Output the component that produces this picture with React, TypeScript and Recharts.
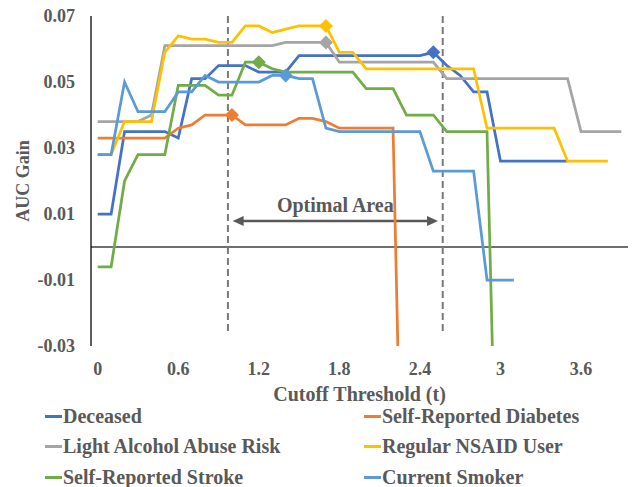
import React from "react"
import { Line, LineChart, ReferenceLine, XAxis, YAxis } from "recharts"

// cutoff thresholds, one category every 0.1
const thresholds = [
  0, 0.1, 0.2, 0.3, 0.4, 0.5, 0.6, 0.7, 0.8, 0.9, 1.0, 1.1, 1.2, 1.3, 1.4, 1.5, 1.6, 1.7, 1.8, 1.9,
  2.0, 2.1, 2.2, 2.3, 2.4, 2.5, 2.6, 2.7, 2.8, 2.9, 3.0, 3.1, 3.2, 3.3, 3.4, 3.5, 3.6, 3.7, 3.8, 3.9,
]

const deceased = [
  0.01, 0.01, 0.035, 0.035, 0.035, 0.035, 0.033, 0.051, 0.051, 0.055, 0.055, 0.055, 0.053, 0.053, 0.053,
  0.058, 0.058, 0.058, 0.058, 0.058, 0.058, 0.058, 0.058, 0.058, 0.058, 0.059, 0.055, 0.052, 0.047, 0.047,
  0.026, 0.026, 0.026, 0.026, 0.026, 0.026,
]
const diabetes = [
  0.033, 0.033, 0.033, 0.033, 0.033, 0.033, 0.036, 0.037, 0.04, 0.04, 0.04, 0.037, 0.037, 0.037, 0.037,
  0.039, 0.039, 0.038, 0.036, 0.036, 0.036, 0.036, 0.036, -0.15,
]
const alcohol = [
  0.038, 0.038, 0.038, 0.038, 0.04, 0.061, 0.061, 0.061, 0.061, 0.061, 0.061, 0.061, 0.061, 0.061, 0.062,
  0.062, 0.062, 0.062, 0.056, 0.056, 0.056, 0.056, 0.056, 0.056, 0.056, 0.056, 0.051, 0.051, 0.051, 0.051,
  0.051, 0.051, 0.051, 0.051, 0.051, 0.051, 0.035, 0.035, 0.035, 0.035,
]
const nsaid = [
  0.028, 0.028, 0.038, 0.038, 0.038, 0.059, 0.064, 0.063, 0.063, 0.062, 0.062, 0.067, 0.067, 0.065, 0.066,
  0.067, 0.067, 0.067, 0.059, 0.059, 0.054, 0.054, 0.054, 0.054, 0.054, 0.054, 0.054, 0.054, 0.054, 0.036,
  0.036, 0.036, 0.036, 0.036, 0.036, 0.026, 0.026, 0.026, 0.026,
]
const stroke = [
  -0.006, -0.006, 0.02, 0.028, 0.028, 0.028, 0.049, 0.049, 0.049, 0.046, 0.046, 0.056, 0.056, 0.054, 0.053,
  0.053, 0.053, 0.053, 0.053, 0.053, 0.048, 0.048, 0.048, 0.04, 0.04, 0.04, 0.035, 0.035, 0.035, 0.035, -0.13,
]
const smoker = [
  0.028, 0.028, 0.05, 0.041, 0.041, 0.041, 0.047, 0.047, 0.052, 0.05, 0.05, 0.05, 0.05, 0.052, 0.052, 0.051,
  0.051, 0.036, 0.035, 0.035, 0.035, 0.035, 0.035, 0.035, 0.035, 0.023, 0.023, 0.023, 0.023, -0.01, -0.01, -0.01,
]

const seriesNames = [
  "Deceased",
  "Self-Reported Diabetes",
  "Light Alcohol Abuse Risk",
  "Regular NSAID User",
  "Self-Reported Stroke",
  "Current Smoker",
]
const seriesKeys = ["deceased", "diabetes", "alcohol", "nsaid", "stroke", "smoker"]
const seriesColors = ["#4472C4", "#ED7D31", "#A5A5A5", "#FFC000", "#70AD47", "#5B9BD5"]
// index of the highlighted (diamond) point in each series
const markerIndex = [25, 10, 17, 17, 12, 14]

const xTicks = [0, 0.6, 1.2, 1.8, 2.4, 3, 3.6]
const yTicks = [-0.03, -0.01, 0.01, 0.03, 0.05, 0.07]
const optimalRange = [0.97, 2.57]

const seriesValues = [deceased, diabetes, alcohol, nsaid, stroke, smoker]
const rows = thresholds.map((t, i) => {
  const row: Record<string, number | null> = { t }
  seriesKeys.forEach((k, s) => {
    const v = seriesValues[s][i]
    row[k] = v === undefined ? null : v
  })
  return row
})

const FONT = "'Times New Roman', 'Liberation Serif', serif"
const GREY = "#595959"
const tickStyle = { fill: GREY, fontSize: 18, fontWeight: 700, fontFamily: FONT }
const titleStyle = { ...tickStyle, fontSize: 20 }

function diamondDot(series: number) {
  return (props: any) => {
    const { cx, cy, index } = props
    if (index !== markerIndex[series] || cx == null || cy == null) return <g key={`d-${series}-${index}`} />
    const r = 7
    return (
      <path
        key={`d-${series}-${index}`}
        d={`M${cx},${cy - r} L${cx + r},${cy} L${cx},${cy + r} L${cx - r},${cy} Z`}
        fill={seriesColors[series]}
      />
    )
  }
}

function DoubleArrow(props: any) {
  const { x1, y1, x2, y2 } = props
  const head = 11
  const half = 5
  return (
    <g>
      <line x1={x1 + head - 2} y1={y1} x2={x2 - head + 2} y2={y2} stroke={GREY} strokeWidth={2.5} />
      <path d={`M${x1},${y1} L${x1 + head},${y1 - half} L${x1 + head},${y1 + half} Z`} fill={GREY} />
      <path d={`M${x2},${y2} L${x2 - head},${y2 - half} L${x2 - head},${y2 + half} Z`} fill={GREY} />
    </g>
  )
}

export default function App() {
  return (
    <div style={{ position: "absolute", left: 0, top: 0, width: 632, height: 487, background: "#fff" }}>
      <LineChart width={632} height={487} data={rows} margin={{ top: 16, right: 4, bottom: 81, left: 0 }}>
        <XAxis
          dataKey="t"
          type="number"
          domain={[-0.05, 3.95]}
          ticks={xTicks}
          axisLine={false}
          tickLine={false}
          tickSize={0}
          tickMargin={16}
          tick={tickStyle}
          height={60}
          interval={0}
          label={{
            value: "Cutoff Threshold (t)",
            position: "insideBottom",
            offset: 5,
            style: { ...titleStyle, textAnchor: "middle" },
          }}
        />
        <YAxis
          type="number"
          domain={[-0.03, 0.07]}
          ticks={yTicks}
          allowDataOverflow
          width={91}
          axisLine={{ stroke: "#000", strokeWidth: 1.25 }}
          tickLine={false}
          tickSize={0}
          tickMargin={16}
          tick={tickStyle}
          interval={0}
          tickFormatter={(v: number) => v.toFixed(2)}
          label={{
            content: () => (
              <text
                x={23}
                y={181}
                transform="rotate(-90 23 181)"
                textAnchor="middle"
                dominantBaseline="central"
                style={tickStyle}
              >
                AUC Gain
              </text>
            ),
          }}
        />
        <ReferenceLine y={0} stroke="#404040" strokeWidth={1.5} />
        {optimalRange.map((x) => (
          <ReferenceLine
            key={x}
            segment={[
              { x, y: 0.07 },
              { x, y: -0.0267 },
            ]}
            stroke="#7a7a7a"
            strokeWidth={2}
            strokeDasharray="7 4"
          />
        ))}
        <ReferenceLine
          segment={[
            { x: 1.005, y: 0.0079 },
            { x: 2.535, y: 0.0079 },
          ]}
          shape={DoubleArrow}
          label={{ value: "Optimal Area", position: "top", offset: 9, style: { ...titleStyle } }}
        />
        {seriesKeys.map((k, s) => (
          <Line
            key={k}
            dataKey={k}
            name={seriesNames[s]}
            stroke={seriesColors[s]}
            strokeWidth={2.75}
            dot={diamondDot(s)}
            activeDot={false}
            isAnimationActive={false}
          />
        ))}
      </LineChart>
      {seriesNames.map((name, s) => {
        const col = s % 2
        const row = Math.floor(s / 2)
        return (
          <div
            key={name}
            style={{
              position: "absolute",
              left: col === 0 ? 45 : 364,
              top: 416 + row * 30.5 - 12,
              height: 24,
              display: "flex",
              alignItems: "center",
              fontFamily: FONT,
              fontWeight: 700,
              fontSize: 20,
              color: GREY,
              whiteSpace: "nowrap",
            }}
          >
            <span style={{ display: "inline-block", width: 17, height: 3, background: seriesColors[s], marginRight: 1 }} />
            {name}
          </div>
        )
      })}
    </div>
  )
}
